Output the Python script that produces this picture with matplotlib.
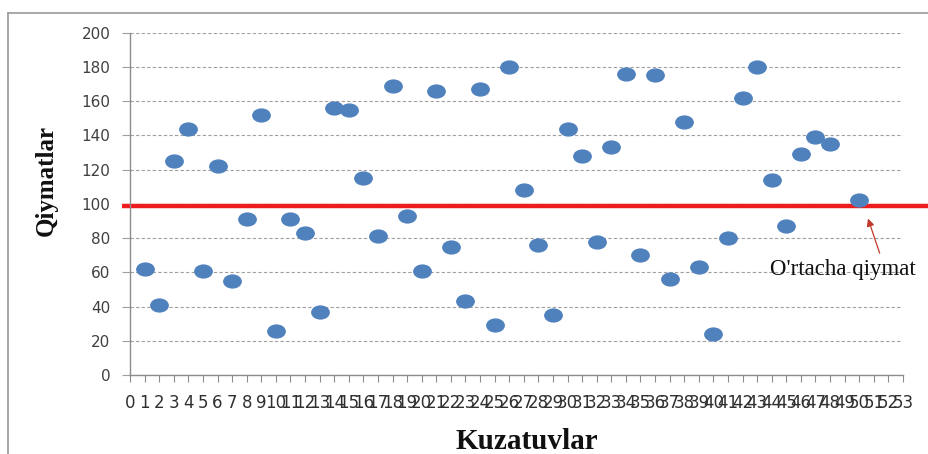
import matplotlib
matplotlib.use("Agg")
import matplotlib.pyplot as plt
from matplotlib.path import Path
from matplotlib.transforms import Affine2D
from matplotlib.lines import Line2D

# Data
obs_x = [1, 2, 3, 4, 5, 6, 7, 8, 9, 10,
         11, 12, 13, 14, 15, 16, 17, 18, 19, 20,
         21, 22, 23, 24, 25, 26, 27, 28, 29, 30,
         31, 32, 33, 34, 35, 36, 37, 38, 39, 40,
         41, 42, 43, 44, 45, 46, 47, 48, 50]
values = [62, 41, 125, 144, 61, 122, 55, 91, 152, 26,
          91, 83, 37, 156, 155, 115, 81, 169, 93, 61,
          166, 75, 43, 167, 29, 180, 108, 76, 35, 144,
          128, 78, 133, 176, 70, 175, 56, 148, 63, 24,
          80, 162, 180, 114, 87, 129, 139, 135, 102]
mean_value = 99
x_ticks = list(range(0, 54))
y_ticks = list(range(0, 201, 20))
x_label = "Kuzatuvlar"
y_label = "Qiymatlar"
annot_text = "O'rtacha qiymat"

W, H = 929, 454
fig = plt.figure(figsize=(W / 100, H / 100), dpi=100)
fig.patch.set_facecolor("white")

# axes placement (pixels)
x0, x1 = 130, 903
y0, y1 = 375, 32.7
ax = fig.add_axes([x0 / W, 1 - y0 / H, (x1 - x0) / W, (y0 - y1) / H])
ax.set_xlim(0, 53)
ax.set_ylim(0, 200)

# outer chart border (left and top only visible)
fig.add_artist(Line2D([8 / W, 8 / W], [0, 1 - 13 / H], transform=fig.transFigure,
                      color="#9a9a9a", lw=1.2))
fig.add_artist(Line2D([8 / W, 1], [1 - 13 / H, 1 - 13 / H], transform=fig.transFigure,
                      color="#9a9a9a", lw=1.2))

# grid
ax.set_yticks(y_ticks)
ax.set_xticks(x_ticks)
ax.yaxis.grid(True, color="#a0a0a0", linestyle=(0, (3, 2)), lw=0.8)
ax.xaxis.grid(False)
ax.set_axisbelow(True)

for s in ["top", "right"]:
    ax.spines[s].set_visible(False)
for s in ["left", "bottom"]:
    ax.spines[s].set_color("#8c8c8c")
    ax.spines[s].set_linewidth(1.0)

ax.tick_params(axis="y", direction="out", length=6, width=0.8, color="#a0a0a0",
               pad=8, labelsize=11, labelcolor="#404040")
ax.tick_params(axis="x", direction="out", length=5, width=0.8, color="#8c8c8c",
               pad=9, labelsize=12, labelcolor="#303030")
ax.set_xticklabels([str(v) for v in x_ticks])
ax.set_yticklabels([str(v) for v in y_ticks])

# elliptical marker
ell = Path.unit_circle().transformed(Affine2D().scale(1.0, 0.74))
ax.plot(obs_x, values, linestyle="none", marker=ell, markersize=12.5,
        markerfacecolor="#4f81bd", markeredgecolor="#4f81bd", zorder=3, clip_on=False)

# mean line
ax.plot([-0.55, 56], [mean_value, mean_value], color="#ee1c1c", lw=3.2,
        zorder=2, clip_on=False, solid_capstyle="butt")

# annotation
ax.annotate("", xy=(50.6, 91.4), xytext=(51.4, 71.2),
            arrowprops=dict(arrowstyle="-|>", color="#c0392b", lw=0.9,
                            mutation_scale=11, shrinkA=0, shrinkB=0),
            annotation_clip=False)
ax.text(48.9, 61.5, annot_text, ha="center", va="center", fontsize=16.5,
        family="Liberation Serif", color="#111111", clip_on=False)

# axis titles
fig.text(46 / W, 1 - 180 / H, y_label, rotation=90, ha="center", va="center",
         fontsize=18, fontweight="bold", family="Liberation Serif", color="#111111")
fig.text(527 / W, 1 - 449 / H, x_label, ha="center", va="baseline",
         fontsize=21, fontweight="bold", family="Liberation Serif", color="#111111")

fig.savefig("out.png", dpi=100, facecolor="white")
